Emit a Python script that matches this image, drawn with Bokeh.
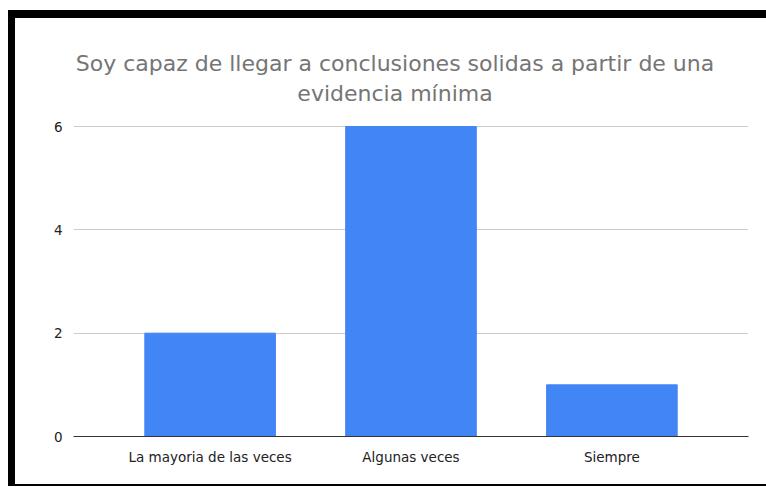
from bokeh.plotting import figure
from bokeh.models import Label, FixedTicker, FactorRange, Range1d
from bokeh.embed import file_html
from bokeh.resources import INLINE

categories = ["La mayoria de las veces", "Algunas veces", "Siempre"]
counts = [2, 6, 1]
y_ticks = [0, 2, 4, 6]
title_lines = ["Soy capaz de llegar a conclusiones solidas a partir de una", "evidencia mínima"]

FONT = "DejaVu Sans"

p = figure(x_range=FactorRange(*categories, range_padding=0.12, range_padding_units="percent"),
           y_range=Range1d(0, 7.897),
           width=758, height=476, output_backend="svg", toolbar_location=None,
           min_border_left=58, min_border_right=25, min_border_top=10, min_border_bottom=58)
p.styles = {"border-top": "8px solid black", "border-left": "7px solid black",
            "border-bottom": "2px solid black", "margin-top": "10px", "margin-left": "8px"}

for txt, yv in zip(title_lines, [7.219, 6.639]):
    p.add_layout(Label(x=321.5, x_units="screen", y=yv, y_units="data", text=txt,
                       text_align="center", text_baseline="alphabetic",
                       text_font=FONT, text_font_size="22px", text_color="#757575"))

p.vbar(x=categories, top=counts, width=0.65, color="#4285F4")

p.outline_line_color = None
p.xgrid.grid_line_color = None
p.ygrid.grid_line_color = "#cccccc"
p.yaxis.ticker = FixedTicker(ticks=y_ticks)
p.yaxis.axis_line_color = None
p.yaxis.major_tick_line_color = None
p.yaxis.minor_tick_line_color = None
p.yaxis.major_label_text_font = FONT
p.yaxis.major_label_text_font_size = "13.5px"
p.yaxis.major_label_text_color = "#222222"
p.yaxis.major_label_standoff = 5
p.xaxis.axis_line_color = "#333333"
p.xaxis.axis_line_width = 1
p.xaxis.major_tick_line_color = None
p.xaxis.minor_tick_line_color = None
p.xaxis.major_label_text_font = FONT
p.xaxis.major_label_text_font_size = "13.5px"
p.xaxis.major_label_text_color = "#222222"
p.xaxis.major_label_standoff = 6

open("out.html", "w").write(file_html(p, INLINE))
